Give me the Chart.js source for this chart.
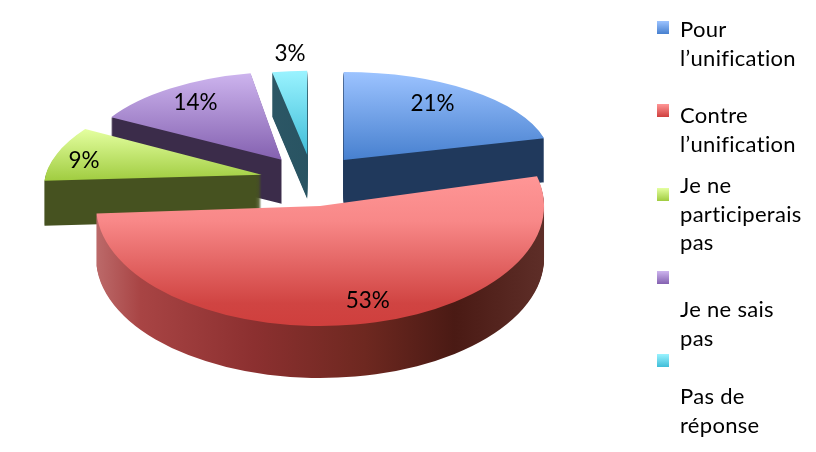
<!DOCTYPE html>
<html>
<head>
<meta charset="utf-8">
<style>
    html, body { margin: 0; padding: 0; background: #fff; }
    canvas { display: block; }
</style>
<script src="https://cdn.jsdelivr.net/npm/chart.js@4/dist/chart.umd.min.js"></script>
</head>
<body>
<canvas id="chart" width="816" height="452"></canvas>
<script>
const categories = ['Pour l’unification', 'Contre l’unification', 'Je ne participerais pas', 'Je ne sais pas', 'Pas de réponse'];
const shares = [21, 53, 9, 14, 3];
const legendLines = [
    ['Pour', 'l’unification'],
    ['Contre', 'l’unification'],
    ['Je ne', 'participerais', 'pas'],
    ['Je ne sais', 'pas'],
    ['Pas de', 'réponse']
];

// look of the fake 3d pie, one entry per slice
const topColors = [
    [[0, '#9cc3ff'], [1, '#4780cf']],
    [[0, '#ff9696'], [0.3, '#f88888'], [0.85, '#d04442'], [1, '#cf3f3d']],
    [[0, '#e4ffa0'], [1, '#a0cc40']],
    [[0, '#cdb4ee'], [1, '#8461b0']],
    [[0, '#9af3ff'], [1, '#3fbdd8']]
];
const wallColors = [
    [[0, '#20395c'], [1, '#20395c']],
    [[0, '#bc6a6a'], [0.1, '#a84444'], [0.35, '#8c3030'], [0.6, '#6e2820'], [0.8, '#4a1a14'], [1, '#5e2e28']],
    [[0, '#465220'], [1, '#465220']],
    [[0, '#3b2c4a'], [1, '#3b2c4a']],
    [[0, '#3a6272'], [1, '#174552']]
];
const scaleX = [2.07, 2.24, 2.16, 1.98, 1.87];
const scaleY = [0.88, 1.20, 0.95, 0.88, 0.84];
const shear = [0, 0, -0.28, -0.07, 0];
const wallDepth = [44, 52, 45, 44, 44];
const drawOrder = [4, 0, 3, 2, 1];
const labelRadius = [0.78, 0.79, 0.8, 0.8, 1.2];
const labelNudge = [[-10, -2], [20, 1], [-9, 2], [7, 0], [4, -1]];

const centerX = 312, centerY = 180.5, explode = 51.6, tilt = 0.5, baseRadius = 100;

function drawArcWith(ctx, arc, i, shiftY, fill) {
    const mid = (arc.startAngle + arc.endAngle) / 2;
    const saved = arc.options;
    ctx.save();
    ctx.translate(centerX + Math.cos(mid) * explode, centerY + Math.sin(mid) * explode * tilt + shiftY);
    ctx.transform(1, 0, shear[i], 1, 0, 0);
    ctx.scale(scaleX[i], scaleY[i]);
    ctx.translate(-arc.x, -arc.y);
    arc.options = Object.create(saved, { backgroundColor: { value: fill(ctx) } });
    arc.draw(ctx);
    arc.options = saved;
    ctx.restore();
}

function addStops(g, stops) {
    stops.forEach(function (s) { g.addColorStop(s[0], s[1]); });
    return g;
}

function topGradient(ctx, arc, i) {
    // vertical range of the slice, in the arc's own coordinates
    var min = 0, max = 0;
    for (var t = 0; t <= 40; t++) {
        var y = Math.sin(arc.startAngle + (arc.endAngle - arc.startAngle) * t / 40) * arc.outerRadius;
        min = Math.min(min, y);
        max = Math.max(max, y);
    }
    return addStops(ctx.createLinearGradient(0, arc.y + min, 0, arc.y + max), topColors[i]);
}

function wallGradient(ctx, arc, i) {
    return addStops(ctx.createLinearGradient(arc.x - arc.outerRadius, 0, arc.x + arc.outerRadius, 0), wallColors[i]);
}

const pie3d = {
    id: 'pie3d',
    beforeDatasetsDraw: function (chart) {
        const ctx = chart.ctx;
        const arcs = chart.getDatasetMeta(0).data;
        drawOrder.forEach(function (i) {
            const arc = arcs[i];
            for (var d = wallDepth[i]; d >= 1; d--) {
                drawArcWith(ctx, arc, i, d, function (c) { return wallGradient(c, arc, i); });
            }
            drawArcWith(ctx, arc, i, 0, function (c) { return topGradient(c, arc, i); });
        });
        return false;
    },
    afterDraw: function (chart) {
        const ctx = chart.ctx;
        const arcs = chart.getDatasetMeta(0).data;
        ctx.save();
        ctx.fillStyle = '#000';
        ctx.textBaseline = 'middle';
        ctx.textAlign = 'center';
        ctx.font = '22.5px Lato';
        arcs.forEach(function (arc, i) {
            const mid = (arc.startAngle + arc.endAngle) / 2;
            const r = arc.outerRadius * labelRadius[i];
            const x = centerX + Math.cos(mid) * explode + Math.cos(mid) * r * scaleX[i] + labelNudge[i][0];
            const y = centerY + Math.sin(mid) * explode * tilt + Math.sin(mid) * r * scaleY[i] + labelNudge[i][1];
            ctx.fillText(shares[i] + '%', x, y);
        });

        // legend, markers on a regular step and text running its own way as in the original
        const markerTop = [21, 104, 188, 271, 354];
        const firstBaseline = [37, 123, 193, 317, 404];
        ctx.textAlign = 'left';
        ctx.textBaseline = 'alphabetic';
        ctx.font = '22px Lato';
        ctx.letterSpacing = '0.3px'; // also keeps the "fi" from turning into a ligature
        legendLines.forEach(function (lines, i) {
            ctx.fillStyle = addStops(ctx.createLinearGradient(0, markerTop[i], 0, markerTop[i] + 13), [topColors[i][0], topColors[i][topColors[i].length - 1]]);
            ctx.fillRect(657, markerTop[i], 12, 13);
            ctx.fillStyle = '#000';
            lines.forEach(function (line, n) {
                ctx.fillText(line, 680, firstBaseline[i] + n * 28.5);
            });
        });
        ctx.restore();
    }
};

new Chart(document.getElementById('chart'), {
    type: 'pie',
    data: {
        labels: categories,
        datasets: [{ data: shares, borderWidth: 0, backgroundColor: topColors.map(function (c) { return c[1][1]; }) }]
    },
    options: {
        responsive: false,
        animation: false,
        radius: baseRadius,
        plugins: { legend: { display: false }, tooltip: { enabled: false } }
    },
    plugins: [pie3d]
});
</script>
</body>
</html>
